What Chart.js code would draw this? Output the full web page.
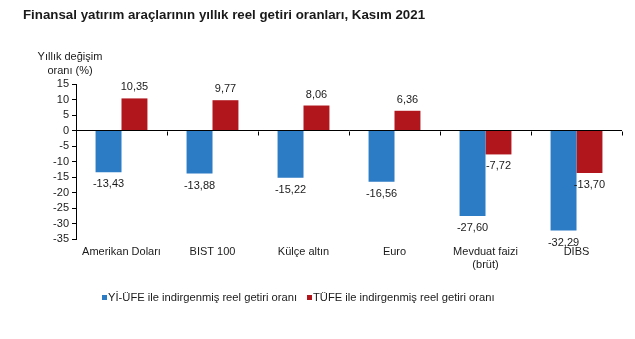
<!DOCTYPE html>
<html>
<head>
<meta charset="utf-8">
<script src="https://cdn.jsdelivr.net/npm/chart.js@4"></script>
<style>
  html, body { margin: 0; padding: 0; background: #fff; }
  #wrap { width: 635px; height: 339px; }
</style>
</head>
<body>
<div id="wrap"><canvas id="chart"></canvas></div>
<script>
const categories = ['Amerikan Doları', 'BIST 100', 'Külçe altın', 'Euro', ['Mevduat faizi', '(brüt)'], 'DİBS'];
const ufeValues = [-13.43, -13.88, -15.22, -16.56, -27.60, -32.29];
const tufeValues = [10.35, 9.77, 8.06, 6.36, -7.72, -13.70];
const yTicks = [15, 10, 5, 0, -5, -10, -15, -20, -25, -30, -35];

const FONT = '"Liberation Sans", Arial, sans-serif';
const BLUE = '#2B7BC5';
const RED = '#B1161C';

// title, y axis caption, category ticks on the zero line, value labels and legend
const decor = {
  id: 'decor',
  afterDatasetsDraw(chart) {
    const c = chart.ctx;
    const xs = chart.scales.x, ys = chart.scales.y;
    c.save();

    // small ticks hanging from the zero line between categories
    const y0 = Math.round(ys.getPixelForValue(0)) + 0.5;
    const half = (xs.getPixelForValue(1) - xs.getPixelForValue(0)) / 2;
    c.strokeStyle = '#000';
    c.lineWidth = 1;
    c.beginPath();
    for (let i = 0; i < categories.length; i++) {
      const px = Math.round(xs.getPixelForValue(i) + half) + 0.5;
      c.moveTo(px, y0);
      c.lineTo(px, y0 + 4);
    }
    c.stroke();

    c.fillStyle = '#1a1a1a';
    c.font = 'bold 13.3px ' + FONT;
    c.textBaseline = 'middle';
    c.textAlign = 'left';
    c.fillText('Finansal yatırım araçlarının yıllık reel getiri oranları, Kasım 2021', 23, 15);

    c.font = '11px ' + FONT;
    c.textAlign = 'center';
    c.fillText('Yıllık değişim', 70, 57);
    c.fillText('oranı (%)', 70, 71);

    chart.data.datasets.forEach((ds, i) => {
      chart.getDatasetMeta(i).data.forEach((bar, j) => {
        const v = ds.data[j];
        const txt = v.toFixed(2).replace('.', ',');
        const y = v < 0 ? bar.y + 12 : bar.y - 11;
        c.fillText(txt, bar.x, y);
      });
    });

    // legend
    c.font = '11.2px ' + FONT;
    c.textAlign = 'left';
    const lx = [102, 307];
    chart.data.datasets.forEach((ds, i) => {
      c.fillStyle = ds.backgroundColor;
      c.fillRect(lx[i], 295, 5, 5);
      c.fillStyle = '#1a1a1a';
      c.fillText(ds.label, lx[i] + 6, 298);
    });
    c.restore();
  }
};

new Chart(document.getElementById('chart'), {
  type: 'bar',
  data: {
    labels: categories,
    datasets: [
      { label: 'Yİ-ÜFE ile indirgenmiş reel getiri oranı', data: ufeValues, backgroundColor: BLUE },
      { label: 'TÜFE ile indirgenmiş reel getiri oranı', data: tufeValues, backgroundColor: RED }
    ]
  },
  options: {
    responsive: true,
    maintainAspectRatio: false,
    animation: false,
    layout: { padding: { top: 84, right: 13, left: 0, bottom: 0 } },
    datasets: { bar: { categoryPercentage: 0.57, barPercentage: 1.0 } },
    plugins: { legend: { display: false }, tooltip: { enabled: false } },
    scales: {
      x: {
        grid: { display: false },
        border: { display: false },
        ticks: { color: '#1a1a1a', font: { family: FONT, size: 11 }, maxRotation: 0, autoSkip: false, padding: -2 },
        afterFit: s => { s.height = 100; }
      },
      y: {
        min: -35,
        max: 15,
        afterBuildTicks: s => { s.ticks = yTicks.map(v => ({ value: v })); },
        afterFit: s => { s.width = 76; },
        border: { display: true, color: '#000' },
        grid: {
          color: ctx => ctx.tick && ctx.tick.value === 0 ? '#000' : 'rgba(0,0,0,0)',
          tickColor: '#000',
          tickLength: 4
        },
        ticks: { color: '#1a1a1a', font: { family: FONT, size: 11 }, padding: 3, autoSkip: false }
      }
    }
  },
  plugins: [decor]
});
</script>
</body>
</html>
